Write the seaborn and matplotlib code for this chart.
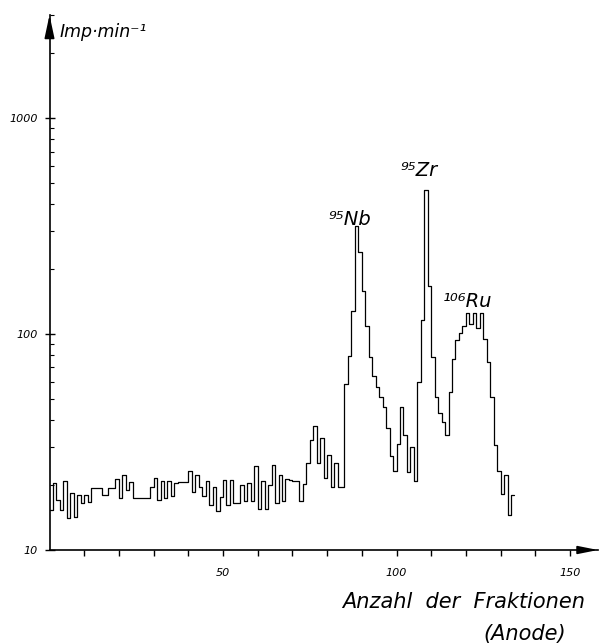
import numpy as np
import pandas as pd
import matplotlib
matplotlib.use("Agg")
import matplotlib.pyplot as plt
import seaborn as sns

# ---- data ----
counts = [
    15.3, 20.4, 17.1, 15.3, 20.9, 14.0, 18.4, 14.2, 18.0, 16.5,
    18.0, 16.7, 19.3, 19.3, 19.3, 18.0, 18.0, 19.3, 19.3, 21.4,
    17.5, 22.2, 19.0, 20.6, 17.5, 17.5, 17.5, 17.5, 17.5, 19.6,
    21.5, 17.0, 20.9, 17.5, 20.8, 17.8, 20.4, 20.6, 20.6, 20.6,
    23.3, 18.5, 22.3, 19.6, 17.8, 20.9, 16.1, 19.6, 15.2, 17.6,
    21.2, 16.2, 21.2, 16.5, 16.5, 20.0, 16.8, 20.4, 16.8, 24.4,
    15.4, 20.9, 15.4, 20.0, 24.8, 16.5, 22.3, 16.8, 21.4, 21.0,
    20.9, 20.9, 16.9, 20.2, 25.3, 32.3, 37.5, 25.3, 33.0, 21.6,
    27.5, 19.6, 25.3, 19.6, 19.6, 59.0, 79.0, 128.0, 316.0, 240.0,
    158.0, 109.0, 78.0, 64.0, 57.0, 51.0, 45.7, 36.9, 27.2, 23.2,
    31.0, 45.7, 34.0, 23.0, 30.0, 20.8, 60.0, 116.0, 465.0, 166.0,
    78.0, 51.0, 43.0, 39.0, 34.0, 54.0, 77.0, 94.0, 101.0, 109.0,
    125.0, 111.0, 125.0, 107.0, 125.0, 95.0, 74.0, 51.0, 30.6, 23.2,
    18.1, 22.2, 14.6, 18.0,
]
fractions = list(range(len(counts)))          # fraction number (bin start)
x_ticklabels = ["50", "100", "150"]
y_ticklabels = ["10", "100", "1000"]
peak_labels = ["⁹⁵Nb", "⁹⁵Zr", "¹⁰⁶Ru"]
peak_label_pos = [(80.3, 320), (101.0, 540), (113.4, 133)]

df = pd.DataFrame({"fraction": np.array(fractions, dtype=float) + 0.5,
                   "count": counts})

sns.set_style("ticks")
plt.rcParams["font.family"] = ["DejaVu Sans"]
plt.rcParams["text.color"] = "black"
plt.rcParams["xtick.color"] = "black"
plt.rcParams["ytick.color"] = "black"
plt.rcParams["axes.labelcolor"] = "black"

fig = plt.figure(figsize=(5.99, 6.44), dpi=100)
ax = fig.add_axes([49.5 / 599, 94 / 644, (598 - 49.5) / 599, 535 / 644])
ax.set_yscale("log")

sns.histplot(data=df, x="fraction", weights="count", bins=len(counts),
             binrange=(0, len(counts)),
             element="step", fill=False, color="black", linewidth=0.9, ax=ax)

ax.set_xlim(0, (598 - 49.5) / 3.47)
ax.set_ylim(10, 3000)

for s in ["top", "right"]:
    ax.spines[s].set_visible(False)
for s in ["left", "bottom"]:
    ax.spines[s].set_linewidth(1.2)
    ax.spines[s].set_color("black")

# arrows at axis ends
ax.annotate("", xy=(0, 1.0), xytext=(0, 0.96), xycoords="axes fraction",
            arrowprops=dict(arrowstyle="-|>,head_length=0.7,head_width=0.15",
                            color="black", lw=1.2, mutation_scale=20,
                            shrinkA=0, shrinkB=0), annotation_clip=False)
ax.annotate("", xy=(1.0, 0), xytext=(0.97, 0), xycoords="axes fraction",
            arrowprops=dict(arrowstyle="-|>,head_length=0.6,head_width=0.12",
                            color="black", lw=1.2, mutation_scale=20,
                            shrinkA=0, shrinkB=0), annotation_clip=False)

# x ticks: every 10, labels only at 50,100,150
xt = np.arange(10, 160, 10)
ax.set_xticks(xt)
ax.set_xticklabels([str(int(v)) if str(int(v)) in x_ticklabels else "" for v in xt],
                   fontstyle="italic", fontsize=8, color="black")
ax.tick_params(axis="x", direction="out", length=4, width=1, pad=9, colors="black")

# y ticks
ax.set_yticks([10, 100, 1000])
ax.set_yticklabels(y_ticklabels, fontstyle="italic", fontsize=8, color="black")
ax.yaxis.set_minor_locator(matplotlib.ticker.LogLocator(base=10, subs=np.arange(2, 10)))
ax.yaxis.set_minor_formatter(matplotlib.ticker.NullFormatter())
ax.tick_params(axis="y", which="major", direction="inout", length=7, width=1, pad=5,
               colors="black")
ax.tick_params(axis="y", which="minor", direction="in", length=3, width=0.8,
               colors="black")

ax.set_xlabel("")
ax.set_ylabel("")
ax.grid(False)

# peak labels
for lab, (px, py) in zip(peak_labels, peak_label_pos):
    ax.text(px, py, lab, fontsize=14, fontstyle="italic", ha="left", va="baseline",
            color="black")

# axis titles
fig.text(60 / 599, 1 - 37 / 644, "Imp·min⁻¹", fontsize=12.5, fontstyle="italic",
         ha="left", va="baseline", color="black")
fig.text(585 / 599, 1 - 608 / 644, "Anzahl  der  Fraktionen", fontsize=15,
         fontstyle="italic", ha="right", va="baseline", color="black")
fig.text(566 / 599, 1 - 640 / 644, "(Anode)", fontsize=15, fontstyle="italic",
         ha="right", va="baseline", color="black")

fig.savefig("out.png", dpi=100, facecolor="white")
